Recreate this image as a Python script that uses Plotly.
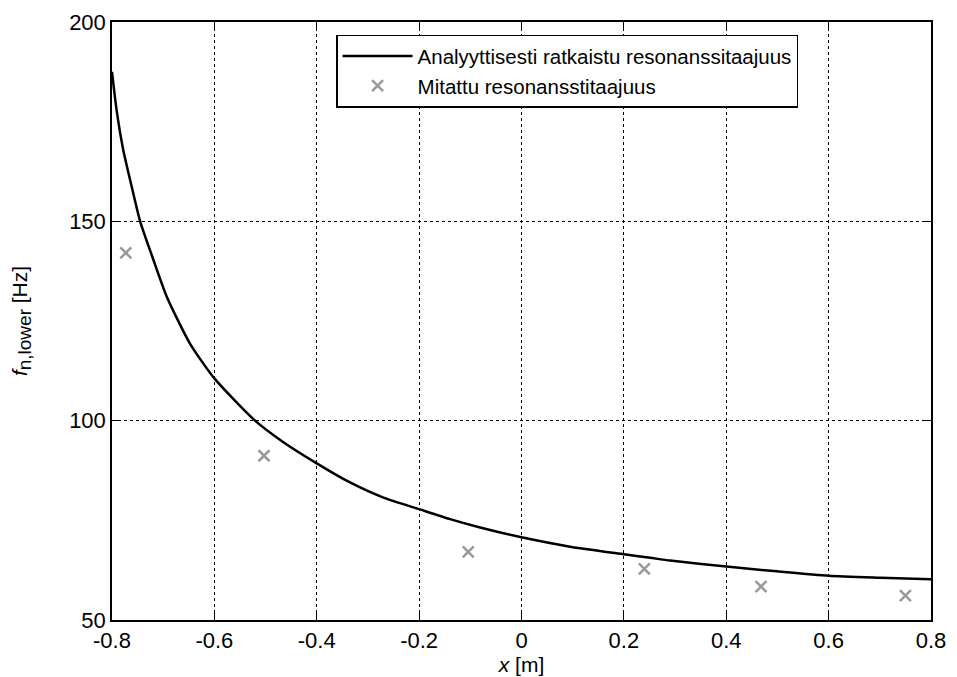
import plotly.graph_objects as go

# Analytical resonance frequency curve
curve_x = [-0.8, -0.791, -0.778, -0.7615, -0.745, -0.719, -0.693, -0.648, -0.6,
           -0.5205, -0.4652, -0.4, -0.3349, -0.2698, -0.2, -0.1395,
           -0.0808, 0.0, 0.095, 0.2, 0.2514, 0.2905, 0.4, 0.499, 0.6, 0.701, 0.8]
curve_y = [187.5, 177.9, 167.9, 158.7, 150.0, 140.3, 131.1, 119.4, 110.6,
           100.0, 94.6, 89.3, 84.5, 80.7, 77.8, 75.3,
           73.2, 70.75, 68.4, 66.5, 65.6, 64.9, 63.4, 62.2, 61.1, 60.6, 60.2]

# Measured resonance frequencies
meas_x = [-0.773, -0.503, -0.104, 0.240, 0.468, 0.750]
meas_y = [142.1, 91.2, 67.1, 62.8, 58.4, 56.1]

x_ticks = [-0.8, -0.6, -0.4, -0.2, 0, 0.2, 0.4, 0.6, 0.8]
x_tick_text = ["-0.8", "-0.6", "-0.4", "-0.2", "0", "0.2", "0.4", "0.6", "0.8"]
y_ticks = [50, 100, 150, 200]

FONT = "Liberation Sans"

fig = go.Figure()
fig.add_trace(go.Scatter(
    x=curve_x, y=curve_y, mode="lines",
    line=dict(color="black", width=2.5, shape="spline", smoothing=0.6),
    name="Analyyttisesti ratkaistu resonanssitaajuus",
))
fig.add_trace(go.Scatter(
    x=meas_x, y=meas_y, mode="markers",
    marker=dict(symbol="x-thin-open", size=11, color="#999999",
                line=dict(color="#999999", width=2.5)),
    name="Mitattu resonansstitaajuus",
))

axis_common = dict(
    showline=True, linecolor="black", linewidth=1.5, mirror="ticks",
    ticks="inside", ticklen=8, tickwidth=1, tickcolor="black",
    showgrid=True, gridcolor="black", gridwidth=1, griddash="dot",
    zeroline=False, automargin=False,
    tickfont=dict(family=FONT, size=22, color="black"),
)

fig.update_xaxes(
    range=[-0.8, 0.8], tickvals=x_ticks, ticktext=x_tick_text,
    title=dict(text="<i>x</i> [m]", font=dict(family=FONT, size=21, color="black"),
               standoff=4),
    **axis_common,
)
fig.update_yaxes(
    range=[50, 200], tickvals=y_ticks,
    title=dict(text="<i>f</i><sub><span style='font-size:19px'>n,lower</span></sub> [Hz]",
               font=dict(family=FONT, size=21, color="black"), standoff=36),
    **axis_common,
)

# page body has an 8px margin: figure is sized so it fits the 957x677 window
fig.update_layout(
    width=949, height=669,
    margin=dict(l=104, r=26, t=14, b=57),
    paper_bgcolor="white", plot_bgcolor="white",
    font=dict(family=FONT, color="black"),
    legend=dict(
        x=0.2736, y=0.979, xanchor="left", yanchor="top",
        bgcolor="white", bordercolor="black", borderwidth=1.5,
        font=dict(family=FONT, size=20.5, color="black"),
        itemwidth=70, tracegroupgap=0,
    ),
)

fig.write_html("out.html")
